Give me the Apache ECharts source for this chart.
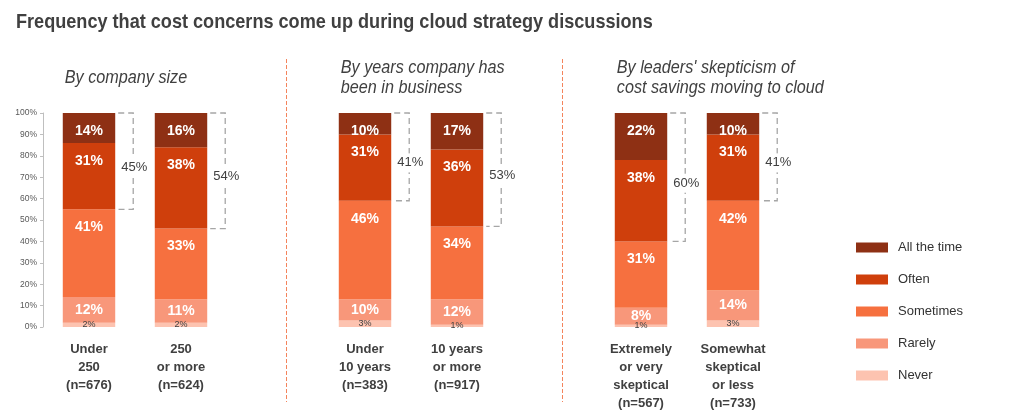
<!DOCTYPE html>
<html><head><meta charset="utf-8">
<script src="https://cdn.jsdelivr.net/npm/echarts@6/dist/echarts.min.js"></script>
<style>html,body{margin:0;padding:0;background:#fff}#c{width:1024px;height:420px}</style>
</head><body><div id="c"></div>
<script>
// ---------- data ----------
const titleText = 'Frequency that cost concerns come up during cloud strategy discussions';
const groupTitles = ['By company size', 'By years company has\nbeen in business', "By leaders' skepticism of\ncost savings moving to cloud"];
const groupFirstIndex = [0, 3, 6];
const gapIndex = [2, 5];
const categories = ['Under\n250\n(n=676)', '250\nor more\n(n=624)', ' ',
  'Under\n10 years\n(n=383)', '10 years\nor more\n(n=917)', '  ',
  'Extremely\nor very\nskeptical\n(n=567)', 'Somewhat\nskeptical\nor less\n(n=733)'];
const seriesNames = ['Never', 'Rarely', 'Sometimes', 'Often', 'All the time'];
const never     = [2, 2, null, 3, 1, null, 1, 3];
const rarely    = [12, 11, null, 10, 12, null, 8, 14];
const sometimes = [41, 33, null, 46, 34, null, 31, 42];
const often     = [31, 38, null, 31, 36, null, 38, 31];
const allTime   = [14, 16, null, 10, 17, null, 22, 10];
const yMin = 0, yMax = 100, yStep = 10;

// ---------- styling ----------
const colors = ['#FDC3B0', '#F8977A', '#F6703F', '#CF3F0C', '#8E3014'];
const FONT = '"Liberation Sans", Arial, sans-serif';
const BAR_RATIO = 0.57;

const seriesData = [never, rarely, sometimes, often, allTime];

function labelFor(k) {
  if (k === 0) return { show: true, position: 'inside', color: '#404040', fontSize: 9, fontFamily: FONT,
    formatter: p => p.value + '%' };
  return { show: true, position: k === 1 ? 'inside' : 'insideTop', distance: 11, color: '#fff', fontSize: 14,
    fontWeight: 'bold', fontFamily: FONT, formatter: p => p.value + '%' };
}

const barSeries = seriesNames.map((name, k) => ({
  name, type: 'bar', stack: 'total', barWidth: (BAR_RATIO * 100) + '%',
  itemStyle: { color: colors[k] },
  data: seriesData[k].map(v => v == null ? '-' : v),
  label: labelFor(k),
  emphasis: { disabled: true }
}));

// brackets: top of stack -> top of "Sometimes", label = often + all the time
const bracketData = [];
categories.forEach((c, i) => {
  if (never[i] == null) return;
  const total = never[i] + rarely[i] + sometimes[i] + often[i] + allTime[i];
  const base = never[i] + rarely[i] + sometimes[i];
  bracketData.push([i, total, base, often[i] + allTime[i]]);
});

const bracketSeries = {
  type: 'custom', name: 'bracket', silent: true, z: 5,
  encode: { x: 0, y: [1, 2] },
  data: bracketData,
  renderItem(params, api) {
    const i = api.value(0);
    const top = api.coord([i, api.value(1)]);
    const bot = api.coord([i, api.value(2)]);
    const bw = api.size([1, 0])[0];
    const half = bw * BAR_RATIO / 2;
    const x0 = top[0] + half + 3, x1 = top[0] + half + 18;
    const mid = (top[1] + bot[1]) / 2 + 6;
    return {
      type: 'group', children: [
        { type: 'polyline', shape: { points: [[x0, top[1]], [x1, top[1]], [x1, bot[1]], [x0, bot[1]]] },
          style: { stroke: '#a6a6a6', lineWidth: 1.3, lineDash: [6, 4], fill: null } },
        { type: 'text', x: x1 + 1, y: mid,
          style: { text: api.value(3) + '%', align: 'center', verticalAlign: 'middle', fill: '#404040',
                   font: '13px ' + FONT, backgroundColor: '#fff', padding: [3, 1] } }
      ]
    };
  }
};

const chart = echarts.init(document.getElementById('c'), null, { renderer: 'canvas' });
chart.setOption({
  animation: false,
  backgroundColor: '#fff',
  grid: { left: 43, right: 245, top: 113, bottom: 93 },
  xAxis: {
    type: 'category', data: categories,
    axisLine: { show: false }, axisTick: { show: false },
    axisLabel: { interval: 0, color: '#404040', fontWeight: 'bold', fontSize: 13, lineHeight: 18,
                 fontFamily: FONT, margin: 13 }
  },
  yAxis: {
    type: 'value', min: yMin, max: yMax, interval: yStep,
    axisLine: { show: true, lineStyle: { color: '#bfbfbf' } },
    axisTick: { show: true, length: 3, lineStyle: { color: '#bfbfbf' } },
    splitLine: { show: false },
    axisLabel: { color: '#595959', fontSize: 8.5, fontFamily: FONT, margin: 6, formatter: '{value}%' }
  },
  legend: {
    orient: 'vertical', left: 851, top: 236, itemWidth: 32, itemHeight: 10, itemGap: 19,
    icon: 'rect', selectedMode: false,
    data: seriesNames.slice().reverse(),
    textStyle: { fontSize: 13, color: '#333', fontFamily: FONT, padding: [0, 0, 0, 5] }
  },
  series: [...barSeries, bracketSeries]
});

// decorations placed from the axis scale
function decorate() {
  const band = chart.convertToPixel({ xAxisIndex: 0 }, 1) - chart.convertToPixel({ xAxisIndex: 0 }, 0);
  const els = [];
  els.push({ type: 'text', x: 16, y: 12, scaleX: 0.862, silent: true,
    style: { text: titleText, font: 'bold 21px ' + FONT, fill: '#404040', verticalAlign: 'top' } });
  gapIndex.forEach(g => {
    const x = Math.round(chart.convertToPixel({ xAxisIndex: 0 }, g) + band * 0.14) + 0.5;
    els.push({ type: 'line', shape: { x1: x, y1: 59, x2: x, y2: 402 },
      style: { stroke: '#F4845C', lineWidth: 1, lineDash: [4, 2] }, silent: true });
  });
  groupFirstIndex.forEach((gi, k) => {
    const x = chart.convertToPixel({ xAxisIndex: 0 }, gi) - band * BAR_RATIO / 2 + 2;
    els.push({ type: 'text', x: x, y: k === 0 ? 68 : 58, scaleX: 0.9, silent: true,
      style: { text: groupTitles[k], font: 'italic 18px ' + FONT, fill: '#404040', lineHeight: 20, verticalAlign: 'top' } });
  });
  chart.setOption({ graphic: els });
}
decorate();
</script>
</body></html>
